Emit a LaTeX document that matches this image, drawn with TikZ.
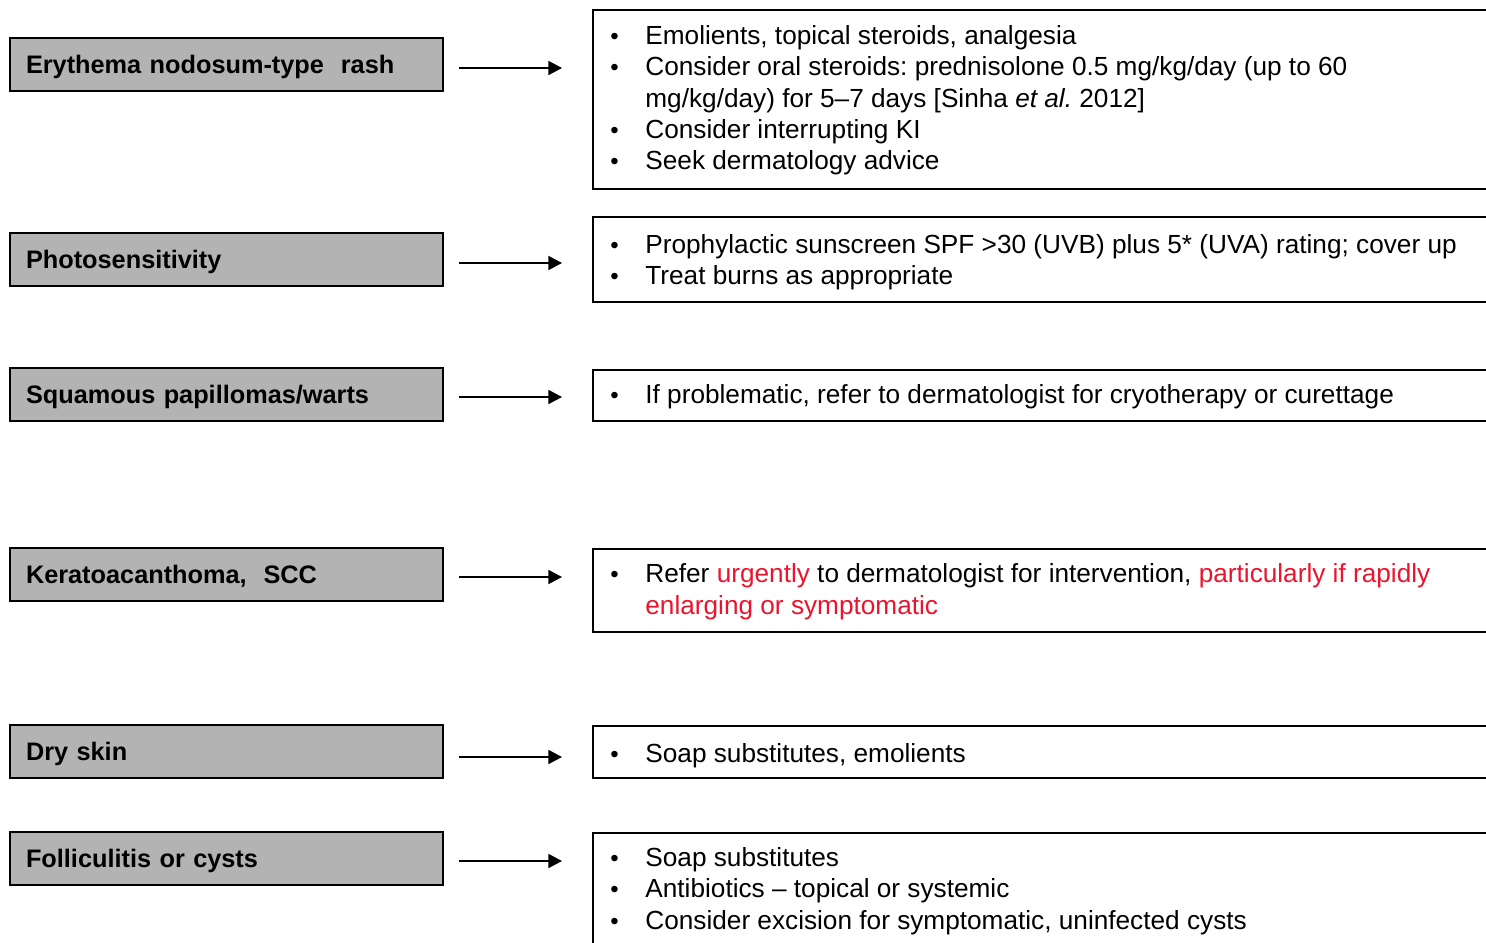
\documentclass[tikz,border=0pt]{standalone}
\usepackage{fontspec}
\setmainfont{Liberation Sans}
\usetikzlibrary{arrows.meta}
\definecolor{boxgray}{RGB}{179,179,179}
\definecolor{alertred}{RGB}{235,20,45}
\frenchspacing
\begin{document}
\begin{tikzpicture}[x=0.5pt,y=-0.5pt,
 lbox/.style={draw=black, line width=1pt, fill=boxgray, anchor=west, minimum height=26.5pt, text width=200.5pt, inner xsep=8pt, inner ysep=0pt, align=left, text height=9.3pt, text depth=0pt, font=\fontsize{12.65pt}{15pt}\selectfont\bfseries},
 rbox/.style={draw=black, line width=1pt, anchor=north west, minimum width=454pt, inner sep=0pt},
 txt/.style={anchor=base west, inner sep=0pt, font=\fontsize{13.1pt}{15pt}\selectfont},
 bul/.style={anchor=base west, inner sep=0pt, font=\fontsize{12pt}{15pt}\selectfont},
 arr/.style={-{Triangle[length=6.8pt,width=7pt]}, line width=0.8pt, shorten <=7.5pt, shorten >=15pt}]
\useasboundingbox (0,0) rectangle (1486,942);
\clip (0,0) rectangle (1486,942);

% left boxes
\node[lbox] (L1) at (9,64.5) {Erythema nodosum-type\ \ rash};
\node[lbox] (L2) at (9,259.5) {Photosensitivity};
\node[lbox] (L3) at (9,394.5) {Squamous papillomas/warts};
\node[lbox] (L4) at (9,574) {Keratoacanthoma,\ \ SCC};
\node[lbox] (L5) at (9,751.5) {Dry skin};
\node[lbox] (L6) at (9,858.5) {Folliculitis or cysts};

% right boxes
\node[rbox, minimum height=89.5pt] (R1) at (592,9) {};
\node[rbox, minimum height=42.5pt] (R2) at (592,216) {};
\node[rbox, minimum height=25.5pt] (R3) at (592,369) {};
\node[rbox, minimum height=41.5pt] (R4) at (592,548) {};
\node[rbox, minimum height=26pt] (R5) at (592,725) {};
\node[rbox, minimum height=70pt] (R6) at (592,832) {};

% arrows
\draw[arr] ([yshift=-1.75pt]L1.east) -- ([yshift=-1.75pt]L1.east -| R1.west);
\draw[arr] ([yshift=-1.75pt]L2.east) -- ([yshift=-1.75pt]L2.east -| R2.west);
\draw[arr] ([yshift=-1.25pt]L3.east) -- ([yshift=-1.25pt]L3.east -| R3.west);
\draw[arr] ([yshift=-1.5pt]L4.east) -- ([yshift=-1.5pt]L4.east -| R4.west);
\draw[arr] ([yshift=-2.75pt]L5.east) -- ([yshift=-2.75pt]L5.east -| R5.west);
\draw[arr] ([yshift=-1.25pt]L6.east) -- ([yshift=-1.25pt]L6.east -| R6.west);

% box 1 text
\node[bul] (b1a) at (610,44) {•};
\node[txt] (t1a) at (645,44) {Emolients, topical steroids, analgesia};
\node[bul] (b1b) at (610,75) {•};
\node[txt] (t1b) at (645,75) {Consider oral steroids: prednisolone 0.5 mg/kg/day (up to 60};
\node[txt] (t1c) at (645,107) {mg/kg/day) for 5–7 days [Sinha \textit{et al.} 2012]};
\node[bul] (b1d) at (610,138) {•};
\node[txt] (t1d) at (645,138) {Consider interrupting KI};
\node[bul] (b1e) at (610,169) {•};
\node[txt] (t1e) at (645,169) {Seek dermatology advice};

% box 2 text
\node[bul] (b2a) at (610,253) {•};
\node[txt] (t2a) at (645,253) {Prophylactic sunscreen SPF >30 (UVB) plus 5* (UVA) rating; cover up};
\node[bul] (b2b) at (610,284) {•};
\node[txt] (t2b) at (645,284) {Treat burns as appropriate};

% box 3 text
\node[bul] (b3a) at (610,403) {•};
\node[txt] (t3a) at (645,403) {If problematic, refer to dermatologist for cryotherapy or curettage};

% box 4 text
\node[bul] (b4a) at (610,582) {•};
\node[txt] (t4a) at (645,582) {Refer \textcolor{alertred}{urgently} to dermatologist for intervention, \textcolor{alertred}{particularly if rapidly}};
\node[txt, text=alertred] (t4b) at (645,614) {enlarging or symptomatic};

% box 5 text
\node[bul] (b5a) at (610,762) {•};
\node[txt] (t5a) at (645,762) {Soap substitutes, emolients};

% box 6 text
\node[bul] (b6a) at (610,866) {•};
\node[txt] (t6a) at (645,866) {Soap substitutes};
\node[bul] (b6b) at (610,897) {•};
\node[txt] (t6b) at (645,897) {Antibiotics – topical or systemic};
\node[bul] (b6c) at (610,929) {•};
\node[txt] (t6c) at (645,929) {Consider excision for symptomatic, uninfected cysts};
\end{tikzpicture}
\end{document}
